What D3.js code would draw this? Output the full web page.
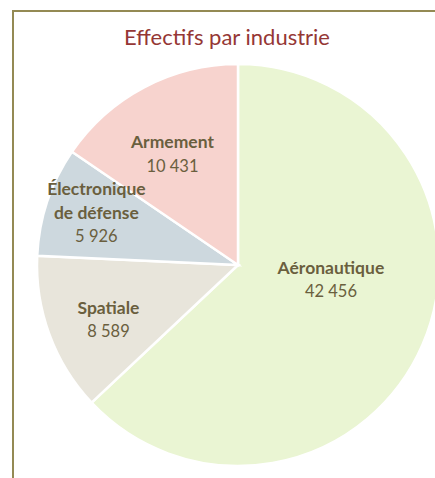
<!DOCTYPE html>
<html>
<head>
<meta charset="utf-8">
<script src="https://cdn.jsdelivr.net/npm/d3@7/dist/d3.min.js"></script>
<style>
  html, body { margin: 0; padding: 0; background: #fff; }
  svg { display: block; }
</style>
</head>
<body>
<svg id="chart" width="435" height="478"></svg>
<script>
// ---- Data ----
const categories = ["Aéronautique", "Spatiale", "Électronique de défense", "Armement"];
const labelLines = [["Aéronautique"], ["Spatiale"], ["Électronique", "de défense"], ["Armement"]];
const values = [42456, 8589, 5926, 10431];
const colors = ["#EAF5D3", "#E8E5DB", "#CDD8DE", "#F7D3CE"];
const title = "Effectifs par industrie";

// ---- Layout (not data) ----
const W = 435, H = 478;
const cx = 238, cy = 265, R = 201;
const labelOffsets = [[-27, -37], [-7, 9.6], [-17.7, -10.6], [-4.5, 5]];

const svg = d3.select("#chart");
const fr = d3.formatLocale({decimal: ",", thousands: "\u00a0", grouping: [3], currency: ["", " €"]});
const fmt = fr.format(",d");

// chart border
svg.append("rect")
  .attr("x", 13).attr("y", 11)
  .attr("width", 460).attr("height", 500)
  .attr("fill", "#fff")
  .attr("stroke", "#948A54").attr("stroke-width", 2);

// title
svg.append("text")
  .attr("x", 227).attr("y", 45)
  .attr("text-anchor", "middle")
  .attr("font-family", "Lato, 'Open Sans', sans-serif")
  .attr("font-size", 22)
  .attr("fill", "#953735")
  .text(title);

const pie = d3.pie().sort(null).value(d => d)
  .startAngle(0).endAngle(2 * Math.PI);
const arcs = pie(values);
const arc = d3.arc().innerRadius(0).outerRadius(R);
const labelArc = d3.arc().innerRadius(R * 0.65).outerRadius(R * 0.65);

const g = svg.append("g").attr("transform", `translate(${cx},${cy})`);
g.selectAll("path.slice").data(arcs).join("path")
  .attr("class", "slice")
  .attr("d", arc)
  .attr("fill", (d, i) => colors[i])
  .attr("stroke", "#fff")
  .attr("stroke-width", 2.5)
  .attr("stroke-linejoin", "miter");

const lh = 23.5, cap = 11.5;
const lab = g.selectAll("g.lab").data(arcs).join("g").attr("class", "lab")
  .attr("transform", (d, i) => {
    const c = labelArc.centroid(d);
    return `translate(${c[0] + labelOffsets[i][0]},${c[1] + labelOffsets[i][1]})`;
  });
lab.each(function(d, i) {
  const lines = labelLines[i].map(t => ({t, bold: true})).concat([{t: fmt(values[i]), bold: false}]);
  const n = lines.length;
  const y0 = -(n - 1) * lh / 2 + cap / 2;
  d3.select(this).selectAll("text").data(lines).join("text")
    .attr("x", 0)
    .attr("y", (l, k) => y0 + k * lh)
    .attr("text-anchor", "middle")
    .attr("font-family", "Lato, 'Open Sans', sans-serif")
    .attr("font-size", l => l.bold ? 17.5 : 16.5)
    .attr("font-weight", l => l.bold ? 700 : 400)
    .attr("fill", "#6A5F3E")
    .text(l => l.t);
});
</script>
</body>
</html>
